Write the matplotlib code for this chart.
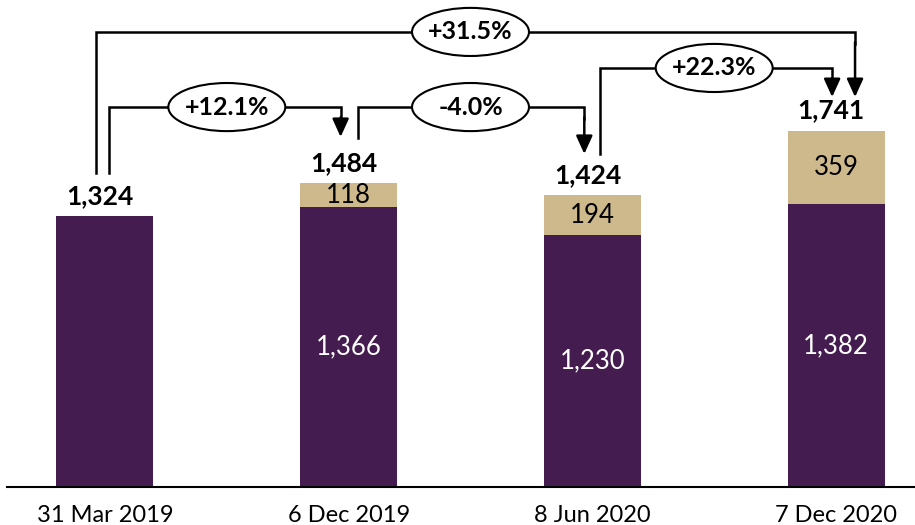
import matplotlib.pyplot as plt
from matplotlib.patches import Ellipse

# Data
categories = ['31 Mar 2019', '6 Dec 2019', '8 Jun 2020', '7 Dec 2020']
base = [1324, 1366, 1230, 1382]
extra = [0, 118, 194, 359]
totals = [1324, 1484, 1424, 1741]

# Change brackets: (from bar, to bar, label)
changes = [(0, 3, '+31.5%'), (0, 1, '+12.1%'), (1, 2, '-4.0%'), (2, 3, '+22.3%')]

purple = '#451c50'
tan = '#cdb98c'

plt.rcParams['font.family'] = ['Lato', 'DejaVu Sans']

fig = plt.figure(figsize=(9.15, 5.25), dpi=100)
ax = fig.add_axes([7 / 915, 38 / 525, 908 / 915, 487 / 525])

x = list(range(len(categories)))
w = 0.398
ax.bar(x, base, w, color=purple, zorder=2)
ax.bar(x, extra, w, bottom=base, color=tan, zorder=2)

# Segment labels (first bar has no split, only its total)
for i in x:
    if extra[i]:
        ax.text(i, base[i] / 2, f'{base[i]:,}', ha='center', va='center',
                color='white', fontsize=18.5)
        ax.text(i, base[i] + extra[i] / 2, f'{extra[i]:,}', ha='center',
                va='center', color='black', fontsize=18.5)
    ax.text(i - 0.02, totals[i] + 40, f'{totals[i]:,}', ha='center',
            va='bottom', fontsize=19, fontweight='bold')

# Bracket layout (data units): level of the horizontal line, x offsets,
# start height above left bar, tip height above right bar
levels = [2223, 1856, 1856, 2047]
x_off = [(-0.037, 0.078), (0.016, -0.033), (0.037, -0.033), (0.033, -0.016)]
start_gap = [210, 210, 221, 203]
tip_gap = [164, 226, 203, 164]

for k, (a, b, label) in enumerate(changes):
    xa = a + x_off[k][0]
    xb = b + x_off[k][1]
    lvl = levels[k]
    ya = totals[a] + start_gap[k]
    yb = totals[b] + tip_gap[k]
    ax.plot([xa, xa, xb, xb], [ya, lvl, lvl, lvl - 60], color='black',
            lw=1.8, solid_joinstyle='miter', zorder=3)
    ax.annotate('', xy=(xb, yb), xytext=(xb, lvl - 50),
                arrowprops=dict(arrowstyle='-|>,head_length=0.55,head_width=0.25',
                                color='black', lw=1.8, mutation_scale=20,
                                shrinkA=0, shrinkB=0), zorder=3)
    xm = (a + b) / 2
    ax.add_patch(Ellipse((xm, lvl), 0.48, 235, facecolor='white',
                         edgecolor='black', lw=1.5, zorder=4))
    ax.text(xm, lvl, label, ha='center', va='center', fontsize=18,
            fontweight='bold', zorder=5)

ax.set_xlim(-0.402, 3.324)
ax.set_ylim(0, 2379)
for s in ['top', 'right', 'left']:
    ax.spines[s].set_visible(False)
ax.spines['bottom'].set_linewidth(1.5)
ax.set_yticks([])
ax.set_xticks(x)
ax.set_xticklabels(categories, fontsize=17)
ax.tick_params(axis='x', length=0, pad=13)

fig.savefig('out.png', dpi=100)
